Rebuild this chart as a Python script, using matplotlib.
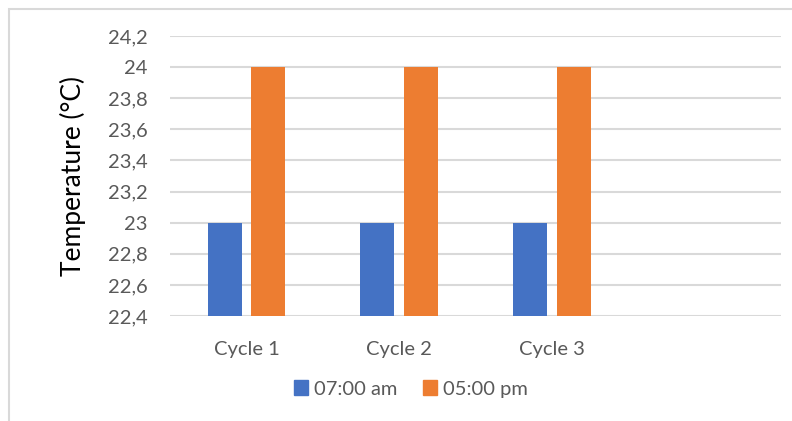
import matplotlib
matplotlib.use('Agg')
import matplotlib.pyplot as plt
from matplotlib.patches import Patch, Rectangle
from matplotlib.ticker import FuncFormatter, MultipleLocator
import numpy as np

# data
categories = ['Cycle 1', 'Cycle 2', 'Cycle 3', '']
morning = [23.0, 23.0, 23.0, np.nan]   # 07:00 am
evening = [24.0, 24.0, 24.0, np.nan]   # 05:00 pm
series_labels = ['07:00 am', '05:00 pm']
y_min, y_max = 22.4, 24.2

plt.rcParams['font.family'] = ['Lato', 'DejaVu Sans']
text_color = '#595959'
colors = ['#4472C4', '#ED7D31']

W, H = 792, 421
fig = plt.figure(figsize=(W / 100, H / 100), dpi=100)

# light frame of the chart (only left and top visible)
fig.patches.append(Rectangle((9 / W, -0.1), 1.2, 1 - 9 / H + 0.1,
                             transform=fig.transFigure, fill=False,
                             edgecolor='#D9D9D9', linewidth=1.5))

ax = fig.add_axes([170 / W, (H - 316) / H, 611 / W, 280 / H])

x = np.arange(len(categories))
bw = 0.223
off = 0.142
ax.bar(x - off, morning, bw, color=colors[0], zorder=3)
ax.bar(x + off, evening, bw, color=colors[1], zorder=3)

ax.set_xlim(-0.5, len(categories) - 0.5)
ax.set_ylim(y_min, y_max)
ax.yaxis.set_major_locator(MultipleLocator(0.2))
ax.yaxis.set_major_formatter(FuncFormatter(lambda v, p: f'{round(v, 1):g}'.replace('.', ',')))
ax.grid(axis='y', color='#D9D9D9', linewidth=1.5, zorder=0)
ax.set_axisbelow(True)

for s in ax.spines.values():
    s.set_visible(False)
ax.set_xticks(x)
ax.set_xticklabels(categories)
ax.tick_params(axis='both', length=0, colors=text_color, labelsize=14.5)
ax.tick_params(axis='y', pad=16)
ax.tick_params(axis='x', pad=18)

ax.set_ylabel('Temperature (°C)', fontsize=19, color='#000000')
ax.yaxis.set_label_coords(-0.137, 0.5)

handles = [Patch(color=c) for c in colors]
fig.legend(handles, series_labels, loc='center', bbox_to_anchor=(411 / W, (H - 389) / H),
           ncol=2, frameon=False, fontsize=14.5, labelcolor=text_color,
           handlelength=0.7, handleheight=0.7, handletextpad=0.3, columnspacing=1.3)

fig.savefig('out.png', dpi=100, facecolor='white')
